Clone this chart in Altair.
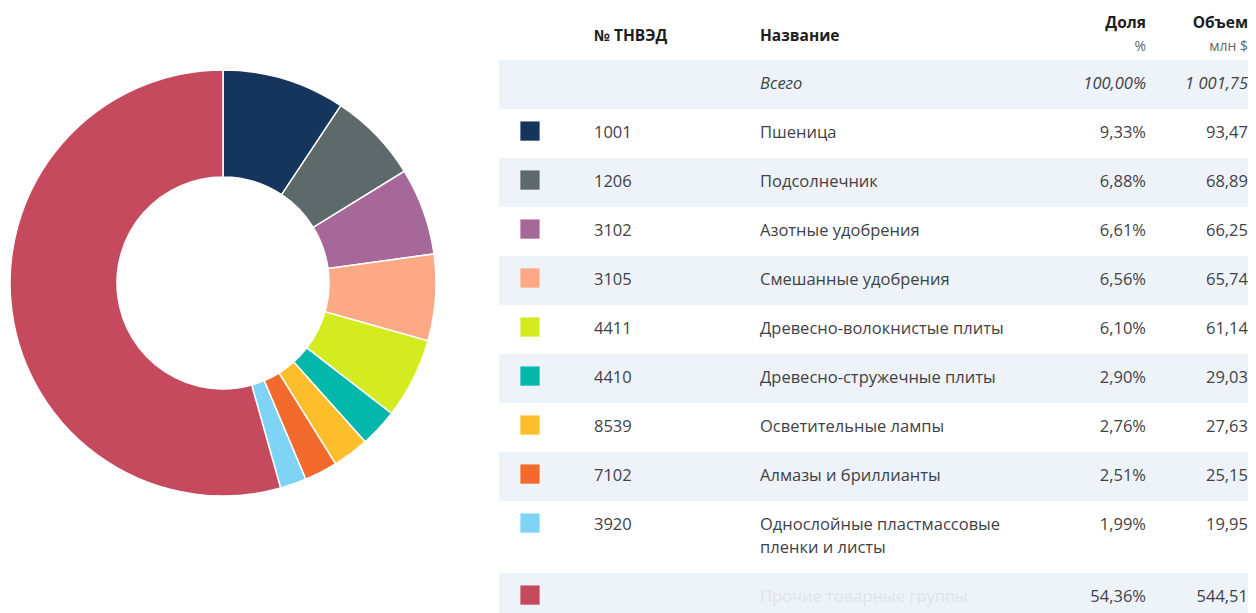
import altair as alt
import pandas as pd

# ---- data ----
codes = ["1001", "1206", "3102", "3105", "4411", "4410", "8539", "7102", "3920", ""]
names = [
    "Пшеница",
    "Подсолнечник",
    "Азотные удобрения",
    "Смешанные удобрения",
    "Древесно-волокнистые плиты",
    "Древесно-стружечные плиты",
    "Осветительные лампы",
    "Алмазы и бриллианты",
    "Однослойные пластмассовые\nпленки и листы",
    "Прочие товарные группы",
]
shares = [9.33, 6.88, 6.61, 6.56, 6.10, 2.90, 2.76, 2.51, 1.99, 54.36]
volumes = [93.47, 68.89, 66.25, 65.74, 61.14, 29.03, 27.63, 25.15, 19.95, 544.51]
colors = ["#16355c", "#5e696b", "#a66898", "#fea985", "#d4eb1f",
          "#03b8aa", "#fdbe2b", "#f26b2c", "#7fd3f5", "#c64a5d"]
total_label = "Всего"
total_share = 100.00
total_volume = 1001.75
header_main = ["№ ТНВЭД", "Название"]
header_right = ["Доля", "Объем"]
header_units = ["%", "млн $"]

FONT = "Open Sans"
TXT = "#3f4247"
FS = 16.5
H = 605


def ru(v):
    s = f"{v:,.2f}"
    return s.replace(",", " ").replace(".", ",")


# ---- row layout (in row units) ----
LINE = 0.47
tops, lines_per_row = [], []
u = 0.0
tops.append(u)  # total row
u += 1
for n in names:
    nl = len(n.split("\n"))
    tops.append(u)
    lines_per_row.append(nl)
    u += 1 + LINE * (nl - 1)
heights = [1] + [1 + LINE * (nl - 1) for nl in lines_per_row]

bg_rows = pd.DataFrame({
    "top": [tops[i] for i in range(len(tops)) if i % 2 == 0],
    "bot": [tops[i] + heights[i] for i in range(len(tops)) if i % 2 == 0],
})

items = pd.DataFrame({
    "code": codes, "name": names, "share": shares, "volume": volumes,
    "color": colors, "order": list(range(len(codes))),
    "top": tops[1:],
})
items["mid"] = items["top"] + 0.49
items["sw"] = items["top"] + 0.45
items["share_txt"] = [ru(v) + "%" for v in shares]
items["vol_txt"] = [ru(v) for v in volumes]

name_lines = []
for i, n in enumerate(names):
    for k, ln in enumerate(n.split("\n")):
        name_lines.append({
            "txt": ln, "y": tops[i + 1] + 0.49 + LINE * k,
            "clr": "#dfe4ea" if codes[i] == "" else TXT,
        })
name_lines = pd.DataFrame(name_lines)

total_df = pd.DataFrame({
    "txt": [total_label], "share_txt": [ru(total_share) + "%"],
    "vol_txt": [ru(total_volume)], "y": [0.49],
})

hdr_main = pd.DataFrame({"txt": header_main, "y": [-0.50, -0.50], "x": [586, 752]})
hdr_right = pd.DataFrame({"txt": header_right, "y": [-0.755, -0.755], "x": [1138, 1240]})
hdr_units = pd.DataFrame({"txt": header_units, "y": [-0.27, -0.27], "x": [1138, 1240]})

Y_DOM = [-52 / 49, (H - 52) / 49]
yscale = alt.Scale(domain=Y_DOM, reverse=True, nice=False, zero=False)


def Y(field):
    return alt.Y(f"{field}:Q", scale=yscale, axis=None)


cover = alt.Chart(pd.DataFrame({"v": [0]})).mark_rect(color="white").encode(
    x=alt.value(-2), x2=alt.value(1242), y=alt.value(-2), y2=alt.value(H + 2)
)

bg = alt.Chart(bg_rows).mark_rect(color="#edf3f9").encode(
    x=alt.value(491), x2=alt.value(1240), y=Y("top"), y2="bot:Q"
)

shadow = alt.Chart(pd.DataFrame({"v": [1]})).mark_arc(
    radius=217, radius2=209, color="#000000", opacity=0.035
).encode(theta=alt.Theta("v:Q"), x=alt.value(215), y=alt.value(275))

donut = alt.Chart(items).mark_arc(
    radius=213, radius2=106, stroke="white", strokeWidth=1.5
).encode(
    theta=alt.Theta("share:Q", stack=True),
    order=alt.Order("order:Q"),
    color=alt.Color("color:N", scale=None),
    x=alt.value(215), y=alt.value(275),
)

swatch = alt.Chart(items).mark_square(size=370, opacity=1).encode(
    x=alt.value(522), y=Y("sw"), color=alt.Color("color:N", scale=None)
)

code_txt = alt.Chart(items).mark_text(
    align="left", baseline="middle", font=FONT, fontSize=FS, color=TXT
).encode(x=alt.value(586), y=Y("mid"), text="code:N")

name_txt = alt.Chart(name_lines).mark_text(
    align="left", baseline="middle", font=FONT, fontSize=FS
).encode(x=alt.value(752), y=Y("y"), text="txt:N",
         color=alt.Color("clr:N", scale=None))

share_txt = alt.Chart(items).mark_text(
    align="right", baseline="middle", font=FONT, fontSize=FS, color=TXT
).encode(x=alt.value(1138), y=Y("mid"), text="share_txt:N")

vol_txt = alt.Chart(items).mark_text(
    align="right", baseline="middle", font=FONT, fontSize=FS, color=TXT
).encode(x=alt.value(1240), y=Y("mid"), text="vol_txt:N")

tot_name = alt.Chart(total_df).mark_text(
    align="left", baseline="middle", font=FONT, fontSize=FS, fontStyle="italic", color=TXT
).encode(x=alt.value(752), y=Y("y"), text="txt:N")
tot_share = alt.Chart(total_df).mark_text(
    align="right", baseline="middle", font=FONT, fontSize=FS, fontStyle="italic", color=TXT
).encode(x=alt.value(1138), y=Y("y"), text="share_txt:N")
tot_vol = alt.Chart(total_df).mark_text(
    align="right", baseline="middle", font=FONT, fontSize=FS, fontStyle="italic", color=TXT
).encode(x=alt.value(1240), y=Y("y"), text="vol_txt:N")

h_main = alt.Chart(hdr_main).mark_text(
    align="left", baseline="middle", font=FONT, fontSize=15.5, fontWeight="bold", color="#1e1e1e"
).encode(x=alt.X("x:Q", scale=None), y=Y("y"), text="txt:N")
h_right = alt.Chart(hdr_right).mark_text(
    align="right", baseline="middle", font=FONT, fontSize=15.5, fontWeight="bold", color="#1e1e1e"
).encode(x=alt.X("x:Q", scale=None), y=Y("y"), text="txt:N")
h_units = alt.Chart(hdr_units).mark_text(
    align="right", baseline="middle", font=FONT, fontSize=14, color="#666666"
).encode(x=alt.X("x:Q", scale=None), y=Y("y"), text="txt:N")

chart = alt.layer(
    cover, bg, shadow, donut, swatch, code_txt, name_txt, share_txt, vol_txt,
    tot_name, tot_share, tot_vol, h_main, h_right, h_units
).properties(
    width=1240, height=H,
    padding=0,
    autosize=alt.AutoSizeParams(type="none"),
).configure_view(strokeWidth=0, stroke="transparent").configure(background="white")

chart.save("out.html", embed_options={"renderer": "svg", "actions": False})
